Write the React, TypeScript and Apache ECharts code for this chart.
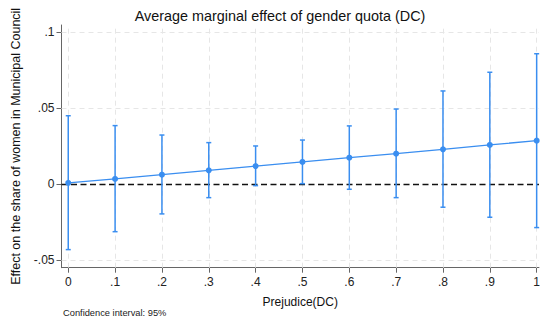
import React, { useEffect, useRef } from "react";
import * as echarts from "echarts";

const xValues = [0, 0.1, 0.2, 0.3, 0.4, 0.5, 0.6, 0.7, 0.8, 0.9, 1];
const estimates = [0.0009, 0.0035, 0.0063, 0.0092, 0.012, 0.0147, 0.0175, 0.0201, 0.023, 0.0259, 0.0287];
const upper = [0.0451, 0.0386, 0.0324, 0.0274, 0.0252, 0.0291, 0.0384, 0.0495, 0.0614, 0.0737, 0.0859];
const lower = [-0.043, -0.0312, -0.0195, -0.0088, -0.0009, 0.0004, -0.0033, -0.0088, -0.0151, -0.0217, -0.0285];
const xTicks = [0, 0.1, 0.2, 0.3, 0.4, 0.5, 0.6, 0.7, 0.8, 0.9, 1];
const yTicks = [-0.05, 0, 0.05, 0.1];

const fmt = (v: number) => {
  if (Math.abs(v) < 1e-9) return "0";
  if (Math.abs(v - 1) < 1e-9) return "1";
  const s = String(Math.round(v * 1000) / 1000);
  return s.replace("0.", ".");
};

const BLUE = "#3a8ef0";
const FONT = "Liberation Sans, Arial, sans-serif";

export default function App() {
  const ref = useRef<HTMLDivElement>(null);
  useEffect(() => {
    if (!ref.current) return;
    const chart = echarts.init(ref.current, undefined, { renderer: "svg" });
    const gridLineStyle = { color: "#e6e6e6", type: [5, 4] as any, width: 1 };
    chart.setOption({
      animation: false,
      textStyle: { fontFamily: FONT },
      grid: { left: 61.5, right: 0, top: 25, bottom: 55.3 },
      graphic: [
        {
          type: "text",
          x: 280,
          y: 16,
          style: {
            text: "Average marginal effect of gender quota (DC)",
            fontSize: 14.4,
            fontFamily: FONT,
            fill: "#111",
            align: "center",
            verticalAlign: "middle",
          },
        },
        {
          type: "text",
          x: 63,
          y: 312.5,
          style: {
            text: "Confidence interval: 95%",
            fontSize: 9.3,
            fontFamily: FONT,
            fill: "#222",
            align: "left",
            verticalAlign: "middle",
          },
        },
      ],
      xAxis: {
        type: "value",
        min: -0.0144,
        max: 1.0049,
        name: "Prejudice(DC)",
        nameLocation: "middle",
        nameGap: 28,
        nameTextStyle: { fontSize: 12, color: "#111", fontFamily: FONT },
        axisLine: { onZero: false, lineStyle: { color: "#666", width: 1 } },
        axisTick: { customValues: xTicks, length: 5, lineStyle: { color: "#666" } },
        axisLabel: {
          customValues: xTicks,
          formatter: fmt,
          fontSize: 12,
          color: "#222",
          margin: 8,
          fontFamily: FONT,
        },
        splitLine: { show: false },
      },
      yAxis: {
        type: "value",
        min: -0.0549,
        max: 0.1048,
        name: "Effect on the share of women in Municipal Council",
        nameLocation: "middle",
        nameGap: 35,
        nameRotate: 90,
        nameTextStyle: { fontSize: 12.5, color: "#111", fontFamily: FONT },
        axisLine: { show: true, onZero: false, lineStyle: { color: "#666", width: 1 } },
        axisTick: { show: true, customValues: yTicks, length: 5, lineStyle: { color: "#666" } },
        axisLabel: {
          customValues: yTicks,
          formatter: fmt,
          fontSize: 12,
          color: "#222",
          margin: 7,
          fontFamily: FONT,
        },
        splitLine: { show: false },
      },
      series: [
        {
          type: "line",
          data: [],
          silent: true,
          z: 1,
          markLine: {
            silent: true,
            z: 1,
            symbol: "none",
            label: { show: false },
            lineStyle: gridLineStyle,
            data: [
              ...xTicks.map((v) => ({ xAxis: v })),
              ...yTicks.filter((v) => v !== 0).map((v) => ({ yAxis: v })),
            ],
          },
        },
        {
          type: "line",
          data: [],
          silent: true,
          z: 2,
          markLine: {
            silent: true,
            z: 2,
            symbol: "none",
            label: { show: false },
            lineStyle: { color: "#111", type: [6, 3.5] as any, width: 1.4 },
            data: [{ yAxis: 0 }],
          },
        },
        {
          type: "custom",
          silent: true,
          data: xValues.map((x, i) => [x, lower[i], upper[i]]),
          renderItem: (params: any, api: any) => {
            const x = api.value(0);
            const lo = api.coord([x, api.value(1)]);
            const hi = api.coord([x, api.value(2)]);
            const cap = 2.5;
            const style = { stroke: BLUE, lineWidth: 1.5, fill: "none" };
            return {
              type: "group",
              children: [
                { type: "line", shape: { x1: lo[0], y1: lo[1], x2: hi[0], y2: hi[1] }, style },
                { type: "line", shape: { x1: hi[0] - cap, y1: hi[1], x2: hi[0] + cap, y2: hi[1] }, style },
                { type: "line", shape: { x1: lo[0] - cap, y1: lo[1], x2: lo[0] + cap, y2: lo[1] }, style },
              ],
            };
          },
          z: 6,
        },
        {
          type: "line",
          data: xValues.map((x, i) => [x, estimates[i]]),
          symbol: "circle",
          symbolSize: 6,
          itemStyle: { color: BLUE },
          lineStyle: { color: BLUE, width: 1.3 },
          z: 7,
        },
      ],
    });
    return () => chart.dispose();
  }, []);
  return <div ref={ref} style={{ width: 543, height: 323, position: "absolute", left: 0, top: 0 }} />;
}
